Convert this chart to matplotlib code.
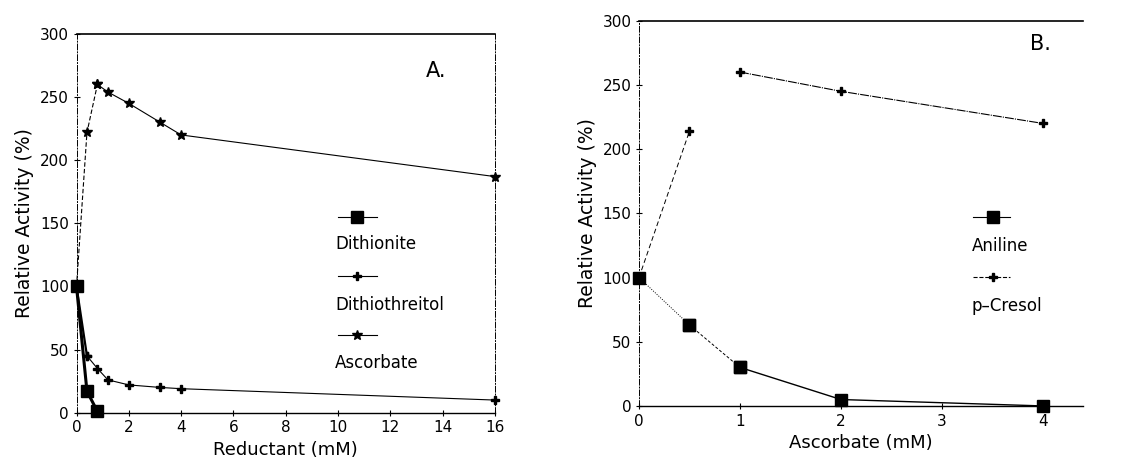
import numpy as np
import matplotlib.pyplot as plt
from matplotlib.lines import Line2D

# Panel A: reductant concentration (mM)
red_x = [0, 0.4, 0.8, 1.2, 2, 3.2, 4, 16]
dithionite_x = [0, 0.4, 0.8]
dithionite = [100, 17, 1]
dtt = [100, 45, 35, 26, 22, 20, 19, 10]
ascorbate_a = [100, 222, 260, 254, 245, 230, 220, 187]

# Panel B: ascorbate concentration (mM)
asc_x = [0, 0.5, 1, 2, 4]
aniline = [100, 63, 30, 5, 0]
cresol = [100, 214, 260, 245, 220]

a_xticks = [0, 2, 4, 6, 8, 10, 12, 14, 16]
b_xticks = [0, 1, 2, 3, 4]
yticks = [0, 50, 100, 150, 200, 250, 300]

plt.rcParams['font.family'] = ['DejaVu Sans']
fig = plt.figure(figsize=(11.25, 4.65), dpi=100)
axA = fig.add_axes([0.068, 0.1125, 0.372, 0.8145])
axB = fig.add_axes([0.568, 0.127, 0.395, 0.8285])

k = 'black'
kw = dict(color=k, clip_on=False)

#%% Panel A
axA.plot(dithionite_x, dithionite, lw=2.2, marker='s', ms=8, **kw)
axA.plot(red_x[:2], dtt[:2], lw=1.6, marker='P', ms=6, **kw)
axA.plot(red_x[1:], dtt[1:], lw=0.8, marker='P', ms=6, **kw)
axA.plot(red_x[:3], ascorbate_a[:3], lw=0.8, ls=(0, (4, 2)), marker='*', ms=7, **kw)
axA.plot(red_x[2:], ascorbate_a[2:], lw=0.8, marker='*', ms=7, **kw)
axA.set_xlim(0, 16)
axA.set_ylim(0, 300)
axA.set_xticks(a_xticks)
axA.set_yticks(yticks)
axA.set_xlabel("Reductant (mM)", fontsize=13)
axA.set_ylabel("Relative Activity (%)", fontsize=13.5)
axA.text(0.86, 0.902, "A.", transform=axA.transAxes, fontsize=15, ha='center', va='center')

# legend with handle above label
legA = [("Dithionite", 's', 8, 0.517, 0.445),
        ("Dithiothreitol", 'P', 6, 0.361, 0.284),
        ("Ascorbate", '*', 7, 0.205, 0.131)]
for lab, mk, ms, yh, yl in legA:
    axA.add_line(Line2D([0.625, 0.718], [yh, yh], color=k, lw=0.8,
                        transform=axA.transAxes))
    axA.add_line(Line2D([0.67], [yh], color=k, marker=mk, ms=ms,
                        transform=axA.transAxes))
    axA.text(0.618, yl, lab, transform=axA.transAxes, fontsize=12, va='center')

#%% Panel B
axB.plot(asc_x[:2], aniline[:2], lw=0.7, ls=(0, (1, 1.5)), marker='s', ms=8, **kw)
axB.plot(asc_x[1:3], aniline[1:3], lw=0.7, ls=(0, (3, 2)), marker='s', ms=8, **kw)
axB.plot(asc_x[2:], aniline[2:], lw=1.0, marker='s', ms=8, **kw)
axB.plot(asc_x[:2], cresol[:2], lw=0.7, ls=(0, (5, 3)), marker='P', ms=6, **kw)
axB.plot(asc_x[2:], cresol[2:], lw=0.8, ls=(0, (8, 1, 1, 1)), marker='P', ms=6, **kw)
axB.set_xlim(0, 4.4)
axB.set_ylim(0, 300)
axB.set_xticks(b_xticks)
axB.set_yticks(yticks)
axB.set_xlabel("Ascorbate (mM)", fontsize=13)
axB.set_ylabel("Relative Activity (%)", fontsize=13.5)
axB.text(0.903, 0.94, "B.", transform=axB.transAxes, fontsize=15, ha='center', va='center')

legB = [("Aniline", 's', 8, 0.49, 0.415, '-'),
        ("p\u2013Cresol", 'P', 6, 0.335, 0.26, '--')]
for lab, mk, ms, yh, yl, ls in legB:
    axB.add_line(Line2D([0.752, 0.836], [yh, yh], color=k, lw=0.8, ls=ls,
                        transform=axB.transAxes))
    axB.add_line(Line2D([0.797], [yh], color=k, marker=mk, ms=ms,
                        transform=axB.transAxes))
    axB.text(0.748, yl, lab, transform=axB.transAxes, fontsize=12, va='center')

for ax in (axA, axB):
    ax.tick_params(direction='inout', length=4, width=0.8, labelsize=11)
    ax.spines['top'].set_linewidth(1.2)
    ax.spines['left'].set_linestyle((0, (6, 2, 1, 2)))
    ax.spines['left'].set_linewidth(0.7)
    ax.spines['bottom'].set_linewidth(1.0)
    for s in ax.spines.values():
        s.set_color(k)
axA.spines['right'].set_linestyle((0, (6, 2, 1, 2)))
axA.spines['right'].set_linewidth(0.7)
axB.spines['right'].set_visible(False)

plt.savefig("out.png", dpi=100)
